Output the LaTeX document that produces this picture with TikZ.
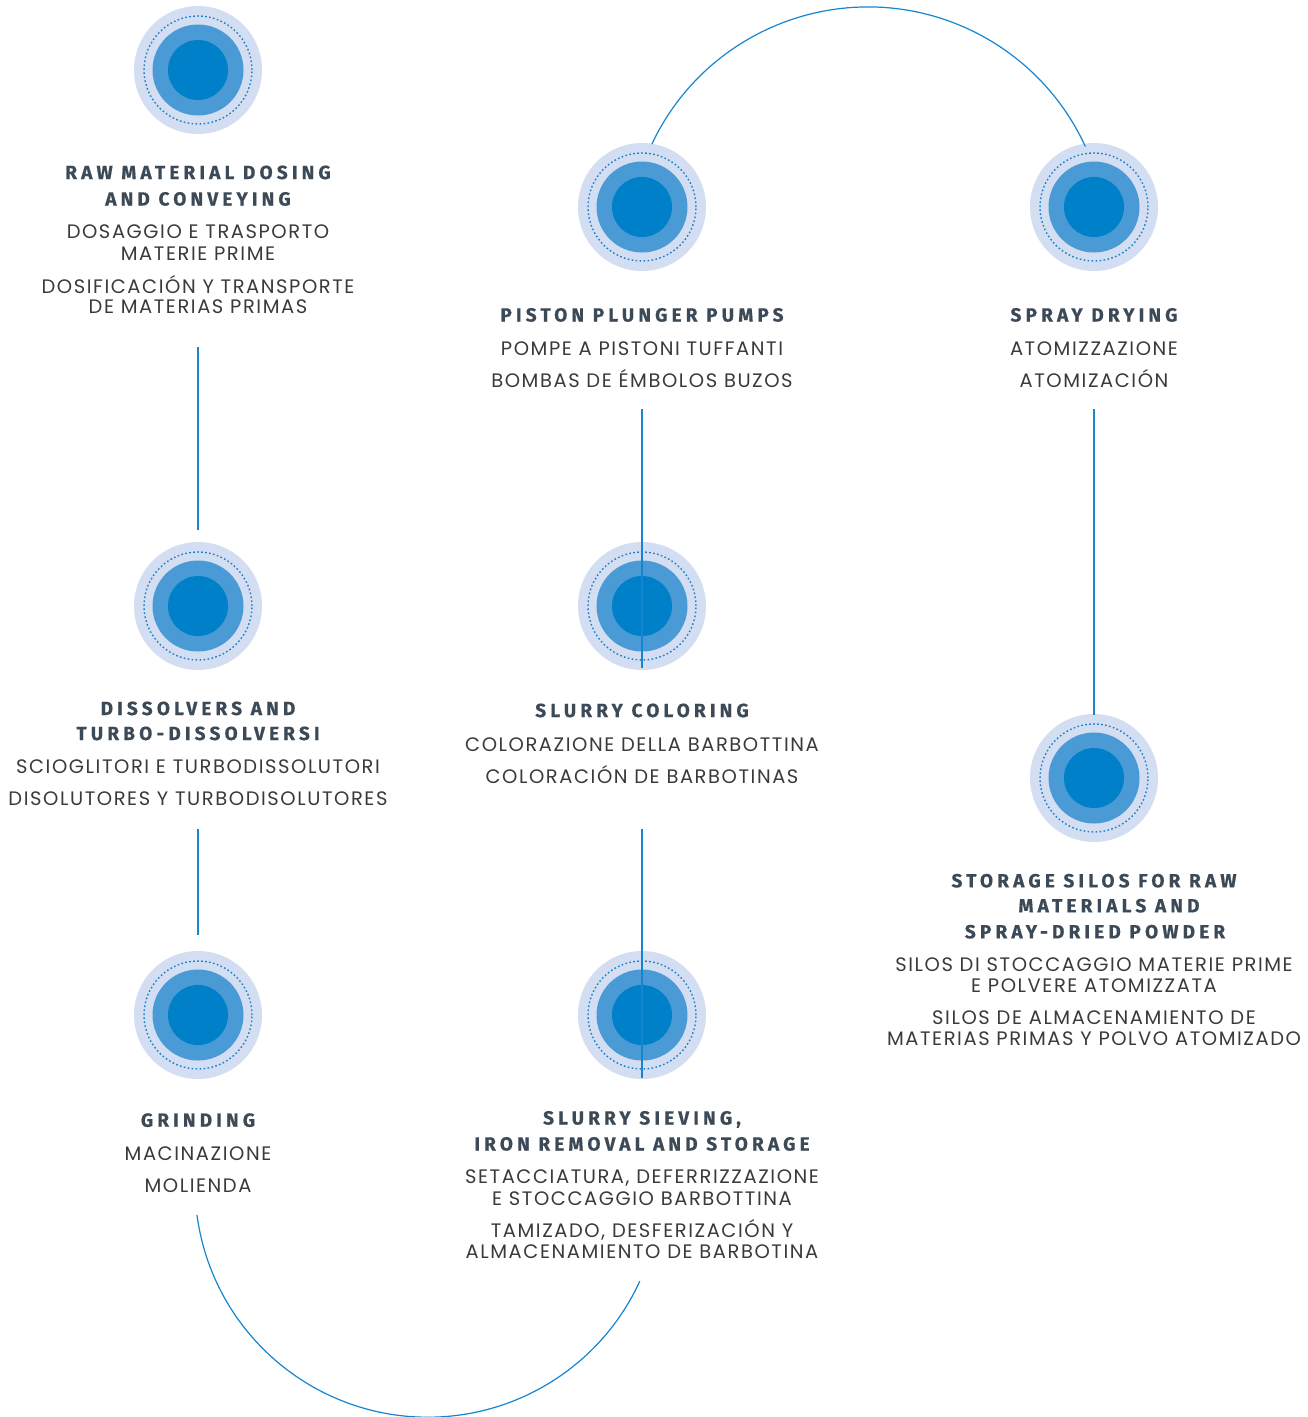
\documentclass[tikz,border=0pt]{standalone}
\usepackage{fontspec}
\newfontfamily\hdfont[LetterSpace=22, BoldFeatures={FakeBold=0.6}]{Fira Sans}
\newfontfamily\subfont[LetterSpace=8]{Poppins}
\definecolor{discA}{HTML}{D3DEF2}
\definecolor{discB}{HTML}{4A9AD5}
\definecolor{discC}{HTML}{0080C8}
\definecolor{dotc}{HTML}{1A7FC8}
\definecolor{linec}{HTML}{1685CF}
\definecolor{hdc}{HTML}{3C4A57}
\definecolor{subc}{HTML}{3A3A3A}
\tikzset{
  disc/.style={circle, minimum size=128pt, inner sep=0pt, fill=discA,
    path picture={
      \draw[dotc, line width=1.4pt, dash pattern=on 1.6pt off 2.4pt]
        (path picture bounding box.center) circle (54pt);
      \fill[discB] (path picture bounding box.center) circle (45.5pt);
      \fill[discC] (path picture bounding box.center) circle (30pt);
    }},
  conn/.style={draw=linec, line width=1.2pt},
  hd/.style={anchor=base, inner sep=0pt, text=hdc, font=\hdfont\bfseries\fontsize{19}{19}\selectfont},
  sub/.style={anchor=base, inner sep=0pt, text=subc, font=\subfont\fontsize{19.5}{19.5}\selectfont},
}
\begin{document}
\begin{tikzpicture}[x=1pt,y=1pt]
\useasboundingbox (0,0) rectangle (1308,-1417);

% discs
\node[disc] (raw)   at (198,-70) {};
\node[disc] (pump)  at (642,-207) {};
\node[disc] (spray) at (1094,-207) {};
\node[disc] (diss)  at (198,-606) {};
\node[disc] (color) at (642,-606) {};
\node[disc] (silos) at (1094,-778) {};
\node[disc] (grind) at (198,-1015) {};
\node[disc] (sieve) at (642,-1015) {};

% raw material
\node[hd] (raw-h1) at (198,-179) {RAW MATERIAL DOSING};
\node[hd] (raw-h2) at (198,-205.5) {AND CONVEYING};
\node[sub] (raw-s1) at (198,-238.5) {DOSAGGIO E TRASPORTO};
\node[sub] (raw-s2) at (198,-260) {MATERIE PRIME};
\node[sub] (raw-s3) at (198,-293) {DOSIFICACIÓN Y TRANSPORTE};
\node[sub] (raw-s4) at (198,-313.5) {DE MATERIAS PRIMAS};

% pumps
\node[hd] (pump-h1) at (642,-321.5) {PISTON PLUNGER PUMPS};
\node[sub] (pump-s1) at (642,-355.5) {POMPE A PISTONI TUFFANTI};
\node[sub] (pump-s2) at (642,-387.5) {BOMBAS DE ÉMBOLOS BUZOS};

% spray
\node[hd] (spray-h1) at (1094,-321.5) {SPRAY DRYING};
\node[sub] (spray-s1) at (1094,-355.5) {ATOMIZZAZIONE};
\node[sub] (spray-s2) at (1094,-387.5) {ATOMIZACIÓN};

% dissolvers
\node[hd] (diss-h1) at (198,-715) {DISSOLVERS AND};
\node[hd] (diss-h2) at (198,-740) {TURBO-DISSOLVERSI};
\node[sub] (diss-s1) at (198,-773.5) {SCIOGLITORI E TURBODISSOLUTORI};
\node[sub] (diss-s2) at (198,-805.5) {DISOLUTORES Y TURBODISOLUTORES};

% coloring
\node[hd] (color-h1) at (642,-717) {SLURRY COLORING};
\node[sub] (color-s1) at (642,-751) {COLORAZIONE DELLA BARBOTTINA};
\node[sub] (color-s2) at (642,-783) {COLORACIÓN DE BARBOTINAS};

% silos
\node[hd] (silos-h1) at (1094,-887.3) {STORAGE SILOS FOR RAW};
\node[hd] (silos-h2) at (1109,-912.3) {MATERIALS AND};
\node[hd] (silos-h3) at (1095,-938.3) {SPRAY-DRIED POWDER};
\node[sub] (silos-s1) at (1094,-971) {SILOS DI STOCCAGGIO MATERIE PRIME};
\node[sub] (silos-s2) at (1094,-992) {E POLVERE ATOMIZZATA};
\node[sub] (silos-s3) at (1094,-1024) {SILOS DE ALMACENAMIENTO DE};
\node[sub] (silos-s4) at (1094,-1045) {MATERIAS PRIMAS Y POLVO ATOMIZADO};

% grinding
\node[hd] (grind-h1) at (198,-1126.7) {GRINDING};
\node[sub] (grind-s1) at (198,-1160.5) {MACINAZIONE};
\node[sub] (grind-s2) at (198,-1192.5) {MOLIENDA};

% sieving
\node[hd] (sieve-h1) at (642,-1124.5) {SLURRY SIEVING,};
\node[hd] (sieve-h2) at (642,-1150.5) {IRON REMOVAL AND STORAGE};
\node[sub] (sieve-s1) at (642,-1183.5) {SETACCIATURA, DEFERRIZZAZIONE};
\node[sub] (sieve-s2) at (642,-1205) {E STOCCAGGIO BARBOTTINA};
\node[sub] (sieve-s3) at (642,-1237.5) {TAMIZADO, DESFERIZACIÓN Y};
\node[sub] (sieve-s4) at (642,-1258.3) {ALMACENAMIENTO DE BARBOTINA};

% connector end points
\coordinate (c1a) at (198,-347);  \coordinate (c1b) at (198,-530);
\coordinate (c2a) at (198,-829);  \coordinate (c2b) at (198,-935);
\coordinate (c3a) at (197,-1215);
\coordinate (c4a) at (642,-829);  \coordinate (c4b) at (642,-1078);
\coordinate (c5a) at (642,-409);  \coordinate (c5b) at (642,-668);
\coordinate (c6a) at (651.8,-144.2);
\coordinate (c7a) at (1094,-409); \coordinate (c7b) at (1094,-715);

% connectors
\draw[conn] (c1a) -- (c1b);
\draw[conn] (c2a) -- (c2b);
\draw[conn] (c3a) arc[start angle=187.6, end angle=335.4, radius=233];
\draw[conn] (c4a) -- (c4b);
\draw[conn] (c5a) -- (c5b);
\draw[conn] (c6a) arc[start angle=154.8, end angle=24.6, radius=239];
\draw[conn] (c7a) -- (c7b);
\end{tikzpicture}
\end{document}
